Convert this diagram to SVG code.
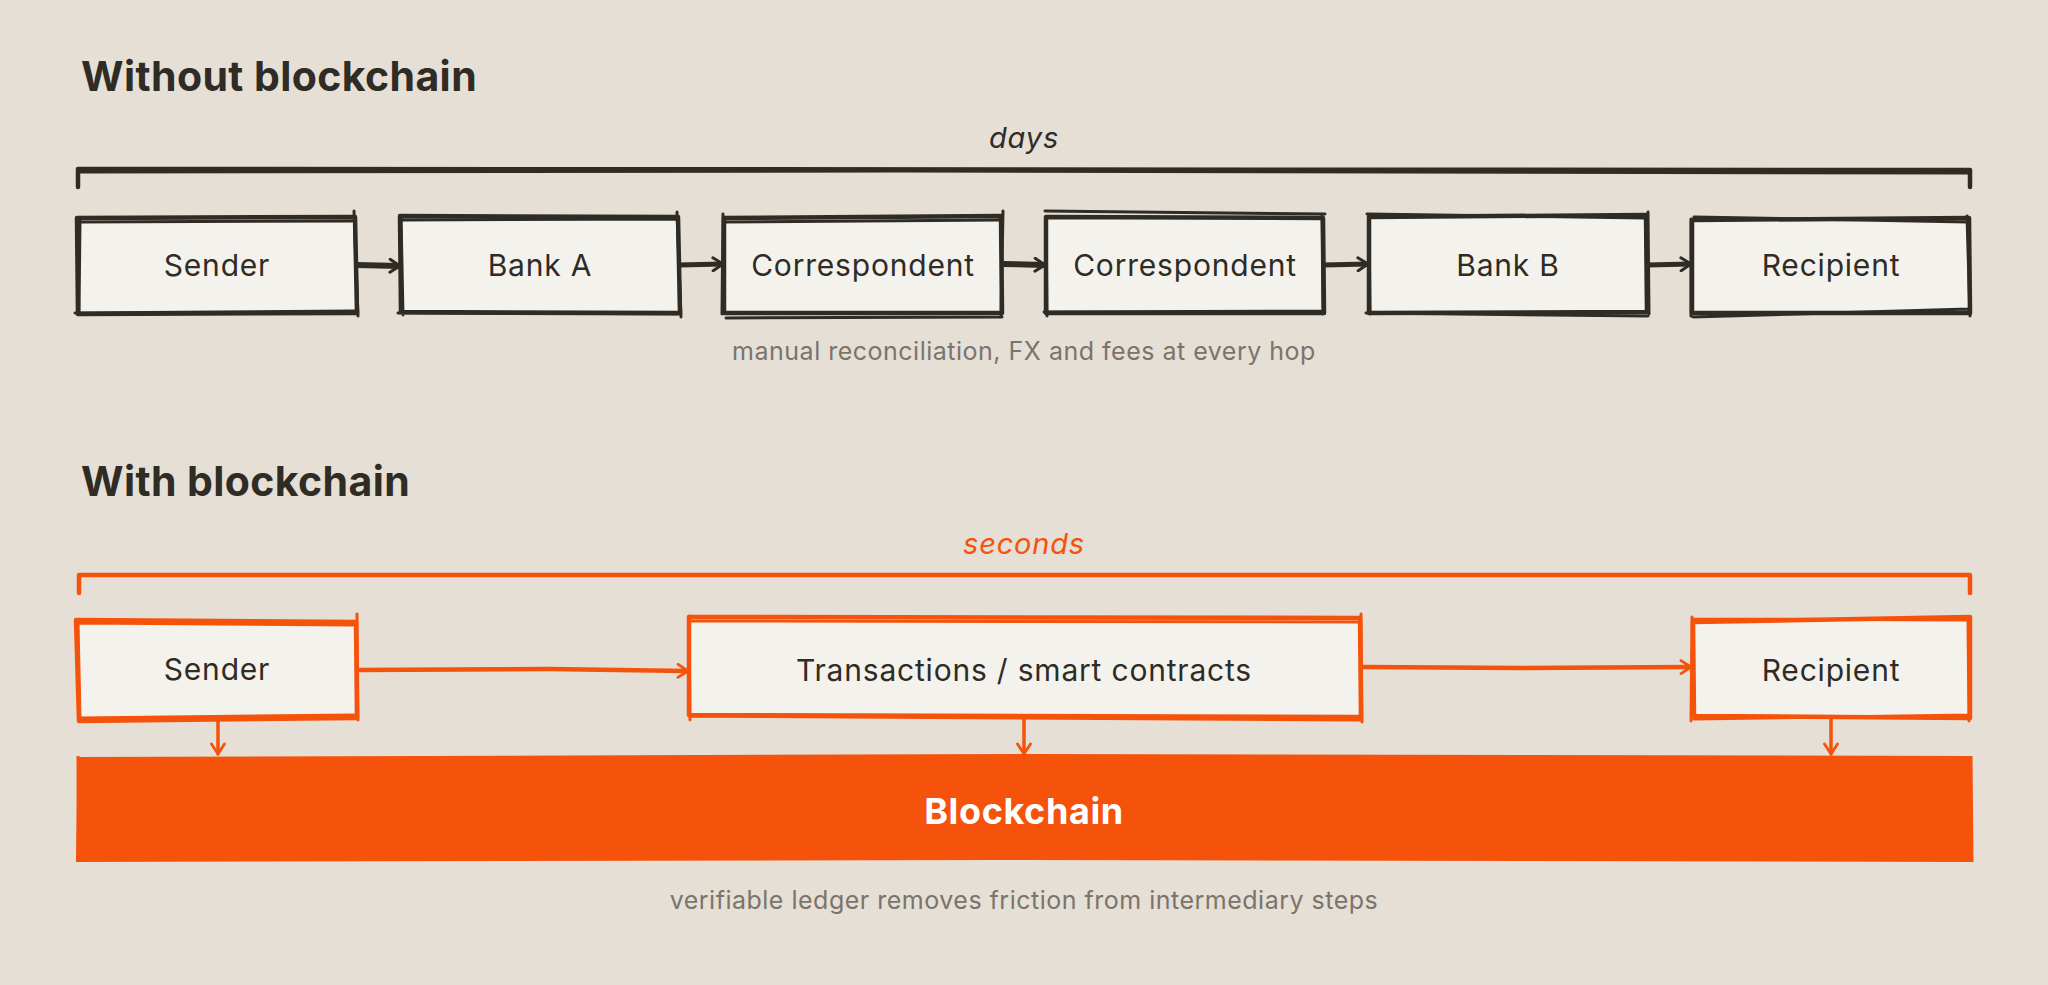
<svg xmlns="http://www.w3.org/2000/svg" width="2048" height="985" viewBox="0 0 2048 985">
<defs>
<style>
.bg{fill:#e5dfd6}
.title{font-family:Inter,"Liberation Sans",sans-serif;font-weight:700;font-size:41px;letter-spacing:0.4px;fill:#2f2b25}
.lbl{font-family:Inter,"Liberation Sans",sans-serif;font-weight:400;font-size:30px;letter-spacing:0.8px;fill:#2f2b25;text-anchor:middle}
.cap{font-family:Inter,"Liberation Sans",sans-serif;font-weight:400;font-size:25px;letter-spacing:0.5px;fill:#7a746c;text-anchor:middle}
.dur{font-family:Inter,"Liberation Sans",sans-serif;font-style:italic;font-size:29px;letter-spacing:0.8px;text-anchor:middle}
.fill{fill:#f4f2ed}
.dk{fill:none;stroke:#2f2b25;stroke-linecap:round;stroke-linejoin:round}
.or{fill:none;stroke:#f5520b;stroke-linecap:round;stroke-linejoin:round}
.w1{stroke-width:4.5}
.w2{stroke-width:3}
.blk{font-family:Inter,"Liberation Sans",sans-serif;font-weight:700;font-size:36px;letter-spacing:0.6px;fill:#ffffff;text-anchor:middle}
</style>
<marker id="ahd" viewBox="0 0 16 16" refX="13" refY="8" markerWidth="16" markerHeight="16" markerUnits="userSpaceOnUse" orient="auto">
<path d="M3,1.5 L13,8 L3,14.5" fill="none" stroke="#2f2b25" stroke-width="3" stroke-linecap="round" stroke-linejoin="round"/>
</marker>
<marker id="aho" viewBox="0 0 16 16" refX="13" refY="8" markerWidth="16" markerHeight="16" markerUnits="userSpaceOnUse" orient="auto">
<path d="M3,1.5 L13,8 L3,14.5" fill="none" stroke="#f5520b" stroke-width="2.8" stroke-linecap="round" stroke-linejoin="round"/>
</marker>
</defs>
<rect class="bg" x="0" y="0" width="2048" height="985"/>

<g id="section-without">
<text class="title" x="81" y="91">Without blockchain</text>
<text class="dur" x="1024" y="148" fill="#2f2b25">days</text>
<path class="dk w1" d="M78,187 L78,169 L1970,170 L1970,187"/>
<path class="dk w2" d="M80,172 L900,171 L1968,173"/>
<text class="cap" x="1024" y="360">manual reconciliation, FX and fees at every hop</text>
</g>

<g id="connectors-top">
<path class="dk" stroke-width="6" d="M356,265 L400,266" marker-end="url(#ahd)"/>
<path class="dk" stroke-width="5" d="M679,265 L723,264" marker-end="url(#ahd)"/>
<path class="dk" stroke-width="6" d="M1002,264 L1045,265" marker-end="url(#ahd)"/>
<path class="dk" stroke-width="5" d="M1324,265 L1368,264" marker-end="url(#ahd)"/>
<path class="dk" stroke-width="5" d="M1647,265 L1691,264" marker-end="url(#ahd)"/>
</g>

<g id="n-sender-1">
<rect class="fill" x="78" y="217" width="278" height="96"/>
<path class="dk w1" d="M77,218 L355,217 L357,313 L78,314 Z"/>
<path class="dk w2" d="M79,222 L352,221 M354,211 L358,316 M355,311 L75,313 M79,311 L80,219"/>
<text class="lbl" x="217" y="276">Sender</text>
</g>
<g id="n-banka">
<rect class="fill" x="401" y="217" width="278" height="96"/>
<path class="dk w1" d="M400,216 L678,217 L680,313 L401,312 Z"/>
<path class="dk w2" d="M402,220 L677,219 M677,212 L681,317 M678,314 L398,313 M403,315 L401,216"/>
<text class="lbl" x="540" y="276">Bank A</text>
</g>
<g id="n-corr1">
<rect class="fill" x="724" y="217" width="278" height="96"/>
<path class="dk w1" d="M724,218 L1001,216 L1002,313 L724,313 Z"/>
<path class="dk w2" d="M726,222 L1000,220 M1003,211 L1001,316 M1002,317 L726,318 M722,314 L723,214"/>
<text class="lbl" x="863" y="276">Correspondent</text>
</g>
<g id="n-corr2">
<rect class="fill" x="1046" y="217" width="278" height="96"/>
<path class="dk w1" d="M1046,217 L1323,218 L1324,313 L1046,313 Z"/>
<path class="dk w2" d="M1045,211 L1325,214 M1322,216 L1323,314 M1324,311 L1044,312 M1047,316 L1046,218"/>
<text class="lbl" x="1185" y="276">Correspondent</text>
</g>
<g id="n-bankb">
<rect class="fill" x="1369" y="217" width="278" height="96"/>
<path class="dk w1" d="M1369,217 L1646,215 L1647,312 L1369,313 Z"/>
<path class="dk w2" d="M1367,214 L1645,218 M1648,212 L1649,314 M1648,316 L1366,313 M1370,314 L1369,216"/>
<text class="lbl" x="1508" y="276">Bank B</text>
</g>
<g id="n-recipient-1">
<rect class="fill" x="1692" y="218" width="278" height="96"/>
<path class="dk w1" d="M1692,220 L1969,218 L1970,313 L1692,313 Z"/>
<path class="dk w2" d="M1694,217 L1968,222 M1967,216 L1970,316 M1969,309 L1693,317 M1691,316 L1691,219"/>
<text class="lbl" x="1831" y="276">Recipient</text>
</g>

<g id="section-with">
<text class="title" x="81" y="496">With blockchain</text>
<text class="dur" x="1024" y="554" fill="#f5520b">seconds</text>
<path class="or w1" d="M79,593 L79,575 L1970,575 L1970,593"/>
<text class="cap" x="1024" y="909">verifiable ledger removes friction from intermediary steps</text>
</g>

<g id="n-blockchain">
<path d="M77,757 L1030,754 L1971,756 L1973,862 L1000,860 L76,862 Z" fill="#f5520b"/>
<path d="M78,756 L79,861 M1971,756 L1972,862" stroke="#f5520b" stroke-width="3" fill="none"/>
<text class="blk" x="1024" y="824">Blockchain</text>
</g>

<g id="connectors-bottom">
<path class="or" stroke-width="4.5" d="M357,670 L548,669 L688,671" marker-end="url(#aho)"/>
<path class="or" stroke-width="4.5" d="M1361,667 L1520,668 L1691,667" marker-end="url(#aho)"/>
<path class="or" stroke-width="3.5" d="M218,717 L218,754" marker-end="url(#aho)"/>
<path class="or" stroke-width="3.5" d="M1024,717 L1024,754" marker-end="url(#aho)"/>
<path class="or" stroke-width="3.5" d="M1831,712 L1831,754" marker-end="url(#aho)"/>
</g>

<g id="n-sender-2">
<rect class="fill" x="78" y="620" width="279" height="97"/>
<path class="or w1" d="M76,620 L356,622 L357,718 L79,721 Z"/>
<path class="or w2" d="M79,623 L353,625 M357,614 L358,720 M355,715 L80,718 M80,720 L78,621"/>
<text class="lbl" x="217" y="680">Sender</text>
</g>
<g id="n-transactions">
<rect class="fill" x="689" y="618" width="672" height="99"/>
<path class="or w1" d="M689,617 L1360,618 L1361,717 L689,715 Z"/>
<path class="or w2" d="M690,621 L1358,622 M1361,614 L1362,722 M1360,720 L690,716 M690,720 L689,616"/>
<text class="lbl" x="1024" y="681">Transactions / smart contracts</text>
</g>
<g id="n-recipient-2">
<rect class="fill" x="1692" y="620" width="278" height="98"/>
<path class="or w1" d="M1693,622 L1970,617 L1970,718 L1694,716 Z"/>
<path class="or w2" d="M1692,619 L1969,620 M1968,621 L1969,721 M1970,715 L1694,719 M1691,721 L1692,617"/>
<text class="lbl" x="1831" y="681">Recipient</text>
</g>
</svg>
